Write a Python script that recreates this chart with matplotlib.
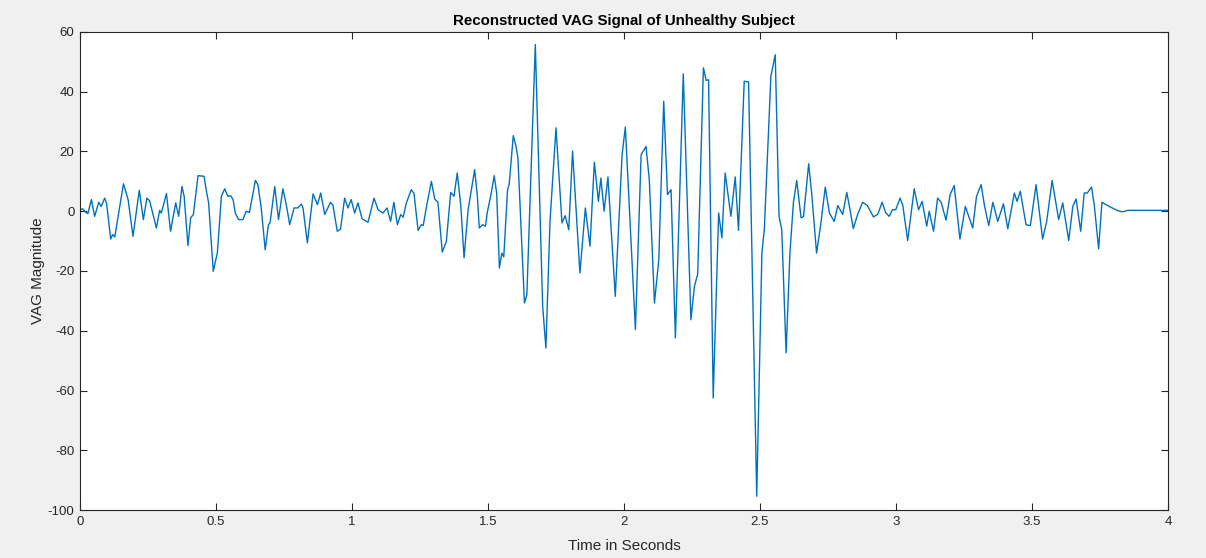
import matplotlib
matplotlib.use("Agg")
import matplotlib.pyplot as plt

# Digitised VAG signal (time in s, magnitude)
time_s = [
    0.000, 0.010, 0.020, 0.029, 0.042, 0.054, 0.069, 0.078, 0.091, 0.098,
    0.113, 0.120, 0.128, 0.160, 0.177, 0.195, 0.218, 0.233, 0.246, 0.256,
    0.281, 0.293, 0.299, 0.318, 0.333, 0.352, 0.363, 0.375, 0.383, 0.397,
    0.407, 0.417, 0.434, 0.446, 0.456, 0.465, 0.473, 0.490, 0.505, 0.520,
    0.532, 0.544, 0.554, 0.563, 0.571, 0.583, 0.599, 0.611, 0.623, 0.645,
    0.654, 0.666, 0.681, 0.693, 0.699, 0.716, 0.730, 0.746, 0.759, 0.771,
    0.787, 0.801, 0.814, 0.820, 0.836, 0.857, 0.873, 0.885, 0.900, 0.921,
    0.930, 0.946, 0.958, 0.973, 0.985, 0.997, 1.010, 1.022, 1.037, 1.059,
    1.081, 1.096, 1.114, 1.129, 1.142, 1.154, 1.167, 1.179, 1.188, 1.200,
    1.218, 1.228, 1.243, 1.255, 1.262, 1.274, 1.292, 1.304, 1.316, 1.332,
    1.347, 1.363, 1.375, 1.387, 1.400, 1.412, 1.427, 1.451, 1.461, 1.468,
    1.480, 1.491, 1.497, 1.511, 1.523, 1.532, 1.542, 1.551, 1.558, 1.572,
    1.578, 1.593, 1.603, 1.610, 1.634, 1.643, 1.674, 1.701, 1.713, 1.728,
    1.750, 1.772, 1.784, 1.797, 1.811, 1.838, 1.858, 1.875, 1.891, 1.906,
    1.915, 1.927, 1.941, 1.968, 1.993, 2.005, 2.042, 2.063, 2.074, 2.081,
    2.093, 2.112, 2.128, 2.146, 2.160, 2.173, 2.189, 2.218, 2.246, 2.259,
    2.271, 2.292, 2.302, 2.311, 2.328, 2.348, 2.360, 2.372, 2.393, 2.409,
    2.421, 2.442, 2.458, 2.488, 2.507, 2.516, 2.540, 2.556, 2.570, 2.580,
    2.596, 2.610, 2.623, 2.635, 2.651, 2.660, 2.679, 2.690, 2.708, 2.724,
    2.740, 2.755, 2.773, 2.786, 2.804, 2.819, 2.828, 2.843, 2.859, 2.877,
    2.895, 2.917, 2.933, 2.949, 2.962, 2.975, 2.987, 2.999, 3.015, 3.025,
    3.043, 3.067, 3.083, 3.096, 3.113, 3.122, 3.138, 3.153, 3.166, 3.184,
    3.199, 3.214, 3.235, 3.255, 3.282, 3.296, 3.313, 3.325, 3.341, 3.356,
    3.374, 3.395, 3.411, 3.435, 3.445, 3.457, 3.478, 3.494, 3.515, 3.539,
    3.554, 3.574, 3.598, 3.613, 3.635, 3.650, 3.662, 3.679, 3.692, 3.703,
    3.719, 3.729, 3.745, 3.757, 3.784, 3.815, 3.833, 3.852, 4.000,
]
magnitude = [
    0.5, 0.8, -0.3, -0.8, 3.9, -1.7, 3.0, 1.6, 4.4, 2.5,
    -9.3, -7.8, -8.6, 9.2, 3.9, -8.4, 7.0, -2.8, 4.4, 3.5,
    -5.6, 0.3, -0.6, 5.9, -6.7, 2.8, -1.7, 8.3, 5.0, -11.5,
    -2.2, -1.1, 11.9, 11.8, 11.7, 6.7, 2.8, -20.1, -14.0, 5.0,
    7.5, 5.0, 5.2, 3.9, -0.6, -2.8, -2.8, 0.0, -0.4, 10.3,
    8.9, 1.5, -12.9, -4.5, -3.8, 8.3, -2.8, 7.5, 2.0, -4.5,
    1.1, 1.1, 2.4, 1.1, -10.6, 5.8, 2.2, 6.1, -1.1, 3.0,
    2.0, -6.7, -6.0, 4.4, 1.1, 3.9, -0.6, 2.8, -2.5, -3.7,
    4.4, 0.5, -0.6, 1.1, -3.4, 3.0, -4.5, -1.1, -2.0, 2.8,
    7.2, 6.0, -6.4, -4.5, -4.8, 1.6, 10.0, 4.1, 3.0, -13.7,
    -10.0, 6.3, 5.0, 12.8, 2.0, -15.6, 0.5, 13.9, 5.0, -5.6,
    -4.5, -5.0, -0.6, 5.6, 11.9, 6.0, -19.0, -14.0, -15.3, 7.2,
    9.0, 25.3, 21.7, 18.0, -30.7, -28.0, 55.8, -31.8, -45.8, -3.4,
    27.9, -3.9, -1.5, -6.2, 20.1, -20.7, 1.1, -11.7, 16.4, 3.3,
    11.1, 0.0, 11.5, -28.5, 18.9, 28.2, -39.6, 18.9, 20.6, 21.7,
    10.6, -30.7, -16.2, 36.8, 5.6, 7.2, -42.4, 46.0, -36.3, -25.1,
    -21.0, 48.0, 43.8, 44.0, -62.5, -0.6, -8.9, 12.8, -1.7, 11.5,
    -6.4, 43.5, 43.3, -95.4, -14.0, -6.0, 45.2, 52.4, -1.7, -6.2,
    -47.4, -14.0, 3.0, 10.3, -2.2, -1.8, 15.9, 6.0, -14.0, -3.9,
    8.1, -0.6, -3.4, 1.9, -1.1, 6.3, 2.0, -5.8, -1.1, 3.0,
    1.9, -1.9, -1.0, 3.0, -0.5, -1.7, 0.5, 0.5, 4.4, 2.0,
    -9.8, 7.5, 0.5, 3.3, -5.0, 0.0, -6.7, 4.4, 3.0, -3.0,
    5.6, 8.6, -9.3, 1.6, -5.6, 5.0, 8.9, 2.0, -4.8, 3.0,
    -3.4, 2.5, -5.9, 6.1, 3.3, 6.7, -4.5, -4.8, 8.9, -9.3,
    -3.4, 10.3, -2.8, 2.8, -9.8, 1.6, 4.1, -6.7, 6.1, 6.1,
    8.1, 2.0, -12.6, 3.0, 1.6, 0.2, -0.2, 0.3, 0.3,
]

x_ticks = [0, 0.5, 1, 1.5, 2, 2.5, 3, 3.5, 4]
x_tick_labels = ["0", "0.5", "1", "1.5", "2", "2.5", "3", "3.5", "4"]
y_ticks = [-100, -80, -60, -40, -20, 0, 20, 40, 60]

plt.rcParams["font.family"] = ["Liberation Sans", "DejaVu Sans"]
plt.rcParams["axes.unicode_minus"] = False
axis_color = "#262626"

fig = plt.figure(figsize=(12.06, 5.58), dpi=100, facecolor="#f0f0f0")
ax = fig.add_axes([0.0663, 0.086, 0.9022, 0.8567])
ax.set_facecolor("white")

ax.plot(time_s, magnitude, color="#0072BD", linewidth=1.0)

ax.set_xlim(0, 4)
ax.set_ylim(-100, 60)
ax.set_xticks(x_ticks)
ax.set_xticklabels(x_tick_labels)
ax.set_yticks(y_ticks)
ax.tick_params(direction="in", top=True, right=True, length=5, width=0.8,
               colors=axis_color, labelsize=9.5, pad=4)
for spine in ax.spines.values():
    spine.set_color(axis_color)
    spine.set_linewidth(0.8)

ax.set_title("Reconstructed VAG Signal of Unhealthy Subject",
             fontsize=10.8, fontweight="bold", color="black", pad=5)
ax.set_xlabel("Time in Seconds", fontsize=11, color=axis_color, labelpad=8)
ax.set_ylabel("VAG Magnitude", fontsize=11, color=axis_color, labelpad=2)

fig.savefig("out.png", dpi=100, facecolor=fig.get_facecolor())
